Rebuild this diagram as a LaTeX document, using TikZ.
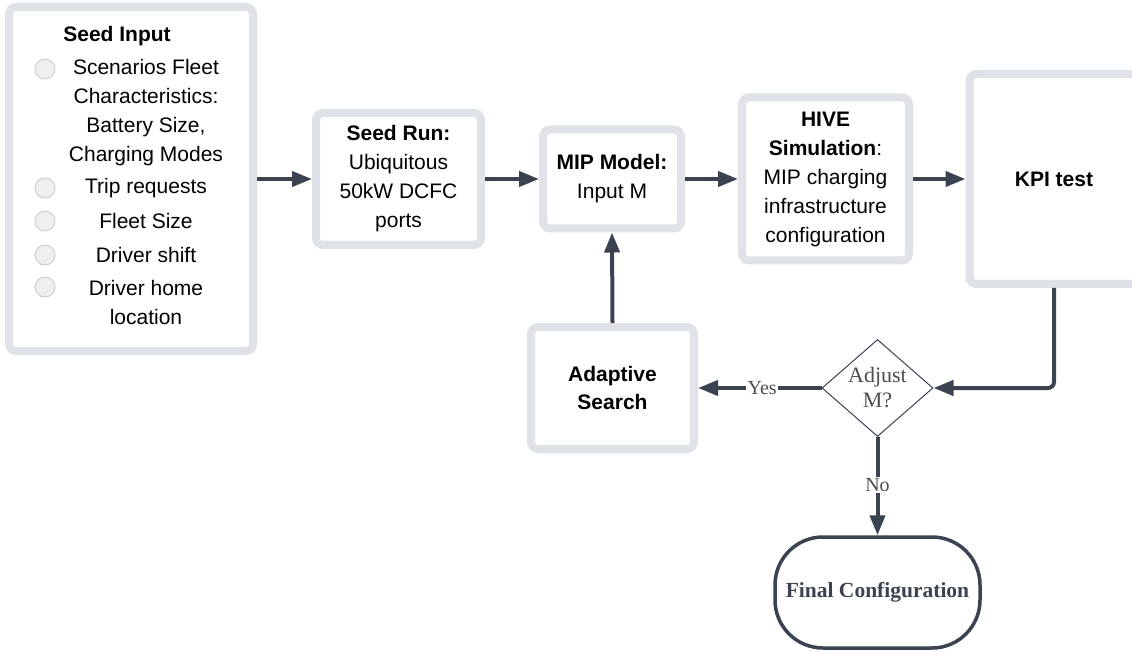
\documentclass[tikz,border=0pt]{standalone}
\usepackage{fontspec}
\setmainfont{Liberation Serif}
\setsansfont{Liberation Sans}
\usetikzlibrary{arrows.meta,shapes.geometric}
\definecolor{bord}{HTML}{DFE2E7}
\definecolor{arrc}{HTML}{3C4350}
\definecolor{dtext}{HTML}{4D4D4D}
\definecolor{circf}{HTML}{EEEFF1}
\definecolor{circd}{HTML}{C5C8CD}
\tikzset{
  box/.style={draw=bord, line width=8pt, rounded corners=7pt, fill=white, align=center,
    font=\sffamily\fontsize{21}{29}\selectfont, inner sep=0pt},
  itemtext/.style={font=\sffamily\fontsize{21}{29}\selectfont, align=center, inner sep=0pt},
  bullet/.style={circle, draw=circd, fill=circf, line width=0.8pt, minimum size=20pt, inner sep=0pt},
  arr/.style={draw=arrc, line width=4pt, -{Triangle[length=20pt,width=15pt]}},
  lbl/.style={fill=white, inner sep=1.5pt, text=dtext, font=\rmfamily\fontsize{20}{22}\selectfont},
  decision/.style={diamond, draw=arrc, line width=1pt, minimum width=111pt, minimum height=97pt, inner sep=0pt, fill=white},
  dectext/.style={text=dtext, align=center, font=\rmfamily\fontsize{22}{25}\selectfont, inner sep=0pt},
  terminal/.style={draw=arrc, line width=3.5pt, rounded corners=48pt, minimum width=205pt, minimum height=111pt,
    text=arrc, font=\rmfamily\bfseries\fontsize{21.5}{24}\selectfont, inner sep=0pt},
}
\begin{document}
\begin{tikzpicture}[x=1pt,y=-1pt]
\useasboundingbox[fill=white] (0,0) rectangle (1132,652);

% boxes
\node[box, minimum width=244pt, minimum height=344pt] (seedin) at (131,179) {};
\node[box, minimum width=165pt, minimum height=132pt] (seedrun) at (398.5,179)
  {\textbf{Seed Run:}\\Ubiquitous\\50kW DCFC\\ports};
\node[box, minimum width=138pt, minimum height=99pt] (mip) at (612,179)
  {\textbf{MIP Model:}\\Input M};
\node[box, minimum width=167pt, minimum height=163pt] (hive) at (825.5,179)
  {\textbf{HIVE}\\\textbf{Simulation}:\\MIP charging\\infrastructure\\configuration};
\node[box, minimum width=169pt, minimum height=210pt] (kpi) at (1054,179) {\textbf{KPI test}};
\node[box, minimum width=163pt, minimum height=122pt] (adapt) at (612.5,388)
  {\textbf{Adaptive}\\[-1pt]\textbf{Search}};
\node[decision] (dec) at (877.5,388) {};
\node[dectext] (dectx) at (dec.center) {Adjust\\M?};
\node[terminal] (final) at (877.5,592.5) {Final Configuration};

% seed input content
\node[itemtext, font=\sffamily\bfseries\fontsize{21}{29}\selectfont] (title) at (117,36) {Seed Input};
\node[bullet] (b1) at (45,69) {};
\node[bullet] (b2) at (45,188) {};
\node[bullet] (b3) at (45,221) {};
\node[bullet] (b4) at (45,255) {};
\node[bullet] (b5) at (45,287) {};
\node[itemtext] (i1) at (146,112.5) {Scenarios Fleet\\Characteristics:\\Battery Size,\\Charging Modes};
\node[itemtext] (i2) at (146,188) {Trip requests};
\node[itemtext] (i3) at (146,221) {Fleet Size};
\node[itemtext] (i4) at (146,255) {Driver shift};
\node[itemtext] (i5) at (146,302) {Driver home\\location};

% connectors
\draw[arr] (seedin.east) -- (seedrun.west);
\draw[arr] (seedrun.east) -- (mip.west);
\draw[arr] (mip.east) -- (hive.west);
\draw[arr] (hive.east) -- (kpi.west);
\draw[arr, rounded corners=6pt] (kpi.south) |- (dec.east);
\draw[arr] (dec.west) -- node[lbl, pos=0.48] {Yes} (adapt.east);
\draw[arr] (adapt.north) -- (mip.south);
\draw[arr] (dec.south) -- node[lbl, pos=0.49] {No} (final.north);
\end{tikzpicture}
\end{document}
